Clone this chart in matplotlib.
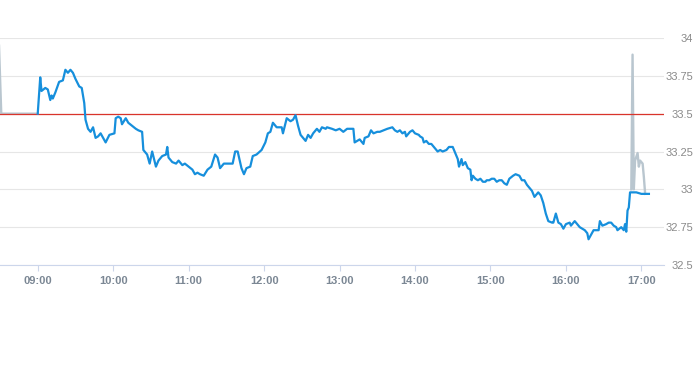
import pandas as pd
import matplotlib
matplotlib.use("Agg")
import matplotlib.pyplot as plt
import matplotlib.dates as mdates

# 盤中成交價（藍線）
blue_times = [
    "09:00", "09:02", "09:03", "09:06", "09:08", "09:10", "09:11", "09:12", "09:14", "09:17",
    "09:20", "09:22", "09:24", "09:26", "09:28", "09:30", "09:33", "09:35", "09:37", "09:38",
    "09:40", "09:42", "09:44", "09:46", "09:48", "09:50", "09:52", "09:54", "09:57", "10:01",
    "10:02", "10:04", "10:06", "10:07", "10:10", "10:12", "10:15", "10:18", "10:20", "10:23",
    "10:24", "10:27", "10:29", "10:31", "10:34", "10:36", "10:39", "10:42", "10:43", "10:44",
    "10:47", "10:50", "10:52", "10:55", "10:57", "11:00", "11:03", "11:05", "11:07", "11:09",
    "11:12", "11:15", "11:18", "11:21", "11:23", "11:25", "11:28", "11:32", "11:35", "11:37",
    "11:39", "11:42", "11:44", "11:46", "11:49", "11:51", "11:54", "11:58", "12:01", "12:03",
    "12:05", "12:07", "12:10", "12:14", "12:15", "12:18", "12:21", "12:23", "12:25", "12:27",
    "12:29", "12:31", "12:33", "12:35", "12:37", "12:39", "12:42", "12:44", "12:46", "12:49",
    "12:50", "12:54", "12:57", "13:00", "13:03", "13:06", "13:08", "13:11", "13:12", "13:14",
    "13:16", "13:19", "13:20", "13:23", "13:25", "13:27", "13:30", "13:32", "13:35", "13:38",
    "13:42", "13:44", "13:46", "13:48", "13:50", "13:52", "13:53", "13:56", "13:58", "14:00",
    "14:03", "14:04", "14:06", "14:07", "14:09", "14:11", "14:13", "14:15", "14:18", "14:20",
    "14:22", "14:25", "14:27", "14:30", "14:32", "14:34", "14:35", "14:37", "14:38", "14:40",
    "14:42", "14:44", "14:45", "14:46", "14:48", "14:50", "14:52", "14:54", "14:56", "14:57",
    "14:59", "15:01", "15:03", "15:05", "15:07", "15:09", "15:11", "15:13", "15:15", "15:18",
    "15:20", "15:23", "15:25", "15:27", "15:29", "15:31", "15:33", "15:35", "15:38", "15:40",
    "15:42", "15:44", "15:46", "15:49", "15:50", "15:52", "15:54", "15:56", "15:58", "16:00",
    "16:03", "16:04", "16:07", "16:09", "16:11", "16:13", "16:15", "16:17", "16:18", "16:20",
    "16:22", "16:24", "16:26", "16:27", "16:29", "16:32", "16:34", "16:36", "16:38", "16:40",
    "16:41", "16:44", "16:46", "16:47", "16:48", "16:49", "16:50", "16:51", "16:56", "17:00",
    "17:02", "17:06",
]
blue_prices = [
    33.50, 33.74, 33.65, 33.67, 33.66, 33.59, 33.62, 33.60, 33.64, 33.71,
    33.72, 33.79, 33.77, 33.79, 33.77, 33.73, 33.68, 33.67, 33.57, 33.46,
    33.40, 33.38, 33.41, 33.34, 33.35, 33.37, 33.34, 33.31, 33.36, 33.37,
    33.47, 33.48, 33.47, 33.43, 33.47, 33.44, 33.42, 33.40, 33.39, 33.38,
    33.26, 33.23, 33.17, 33.25, 33.15, 33.19, 33.22, 33.23, 33.28, 33.21,
    33.18, 33.17, 33.19, 33.16, 33.17, 33.15, 33.13, 33.10, 33.11, 33.10,
    33.09, 33.13, 33.15, 33.23, 33.21, 33.14, 33.17, 33.17, 33.17, 33.25,
    33.25, 33.14, 33.10, 33.14, 33.15, 33.22, 33.23, 33.26, 33.31, 33.37,
    33.38, 33.44, 33.41, 33.41, 33.37, 33.47, 33.45, 33.46, 33.49, 33.42,
    33.36, 33.34, 33.32, 33.36, 33.34, 33.37, 33.40, 33.38, 33.41, 33.40,
    33.41, 33.40, 33.39, 33.40, 33.38, 33.40, 33.40, 33.40, 33.31, 33.32,
    33.33, 33.30, 33.34, 33.35, 33.39, 33.37, 33.38, 33.38, 33.39, 33.40,
    33.41, 33.39, 33.38, 33.39, 33.37, 33.38, 33.35, 33.38, 33.39, 33.37,
    33.36, 33.35, 33.34, 33.31, 33.32, 33.30, 33.30, 33.28, 33.25, 33.26,
    33.25, 33.26, 33.28, 33.28, 33.24, 33.20, 33.15, 33.20, 33.16, 33.18,
    33.14, 33.13, 33.06, 33.09, 33.07, 33.06, 33.07, 33.05, 33.05, 33.06,
    33.06, 33.07, 33.07, 33.05, 33.06, 33.06, 33.04, 33.03, 33.07, 33.09,
    33.10, 33.09, 33.06, 33.06, 33.03, 33.01, 32.99, 32.95, 32.98, 32.96,
    32.91, 32.84, 32.79, 32.78, 32.78, 32.84, 32.78, 32.77, 32.74, 32.77,
    32.78, 32.76, 32.79, 32.77, 32.75, 32.74, 32.73, 32.71, 32.67, 32.70,
    32.73, 32.73, 32.73, 32.79, 32.76, 32.77, 32.78, 32.78, 32.76, 32.75,
    32.73, 32.75, 32.73, 32.77, 32.72, 32.86, 32.88, 32.98, 32.98, 32.97,
    32.97, 32.97,
]

# 盤前 / 盤後（灰線）
pre_times = ["08:29", "08:31", "09:00"]
pre_prices = [34.00, 33.50, 33.50]
post_times = ["16:52", "16:53", "16:54", "16:55", "16:57", "16:58", "16:59", "17:01", "17:02", "17:03"]
post_prices = [33.00, 33.89, 33.00, 33.19, 33.24, 33.15, 33.19, 33.17, 33.08, 32.97]

ref_price = 33.5
y_ticks = [32.5, 32.75, 33, 33.25, 33.5, 33.75, 34]
y_labels = ["32.5", "32.75", "33", "33.25", "33.5", "33.75", "34"]

day = "2024-01-02 "
def to_dt(ts):
    return pd.to_datetime([day + t for t in ts])

plt.rcParams['font.family'] = ['Liberation Sans', 'DejaVu Sans']

fig = plt.figure(figsize=(6.93, 3.65), dpi=100)
ax = fig.add_axes([0, 100 / 365, 664 / 693, 227 / 365])

ax.plot(to_dt(pre_times), pre_prices, color='#b9c6cf', lw=1.7, solid_joinstyle='round')
ax.plot(to_dt(post_times), post_prices, color='#b9c6cf', lw=1.7, solid_joinstyle='round')
ax.plot(to_dt(blue_times), blue_prices, color='#168fdc', lw=1.6, solid_joinstyle='round', zorder=3)
ax.axhline(ref_price, color='#d9342b', lw=0.9, zorder=2)

ax.set_xlim(pd.Timestamp(day + "08:30"), pd.Timestamp(day + "17:18"))
ax.set_ylim(32.5, 34)

ax.xaxis.set_major_locator(mdates.HourLocator(byhour=range(9, 18)))
ax.xaxis.set_major_formatter(mdates.DateFormatter("%H:%M"))

ax.set_yticks(y_ticks)
ax.set_yticklabels(y_labels)
ax.yaxis.tick_right()
ax.tick_params(axis='y', length=0, pad=21, labelsize=8, labelcolor='#8a8a8a')
for lbl in ax.get_yticklabels():
    lbl.set_horizontalalignment('right')
    lbl.set_verticalalignment('center_baseline')
ax.tick_params(axis='x', length=4, width=0.8, color='#ccd6eb', pad=4, labelsize=8, labelcolor='#7b8794')
for lbl in ax.get_xticklabels():
    lbl.set_fontweight('bold')

ax.grid(axis='y', color='#e6e6e6', lw=0.8)
ax.set_axisbelow(True)
for side in ['top', 'left', 'right']:
    ax.spines[side].set_visible(False)
ax.spines['bottom'].set_color('#ccd6eb')
ax.spines['bottom'].set_linewidth(0.8)
ax.spines['bottom'].set_zorder(1)

fig.savefig("out.png", dpi=100)
